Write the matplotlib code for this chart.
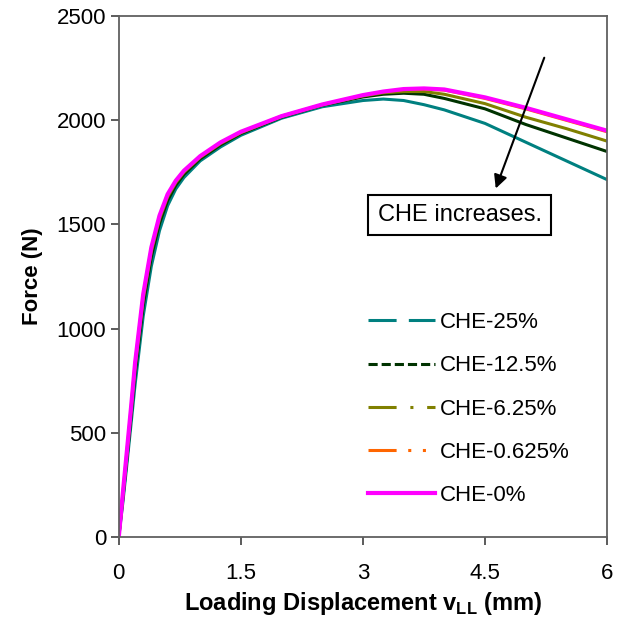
import matplotlib
matplotlib.use("Agg")
import matplotlib.pyplot as plt
from matplotlib.lines import Line2D

plt.rcParams['font.family'] = ['Liberation Sans', 'DejaVu Sans']
plt.rcParams['mathtext.fontset'] = 'custom'
plt.rcParams['mathtext.rm'] = 'Liberation Sans:bold'

# displacement grid (mm)
disp = [0, 0.05, 0.1, 0.15, 0.2, 0.3, 0.4, 0.5, 0.6, 0.7, 0.8, 1.0, 1.25, 1.5,
        2.0, 2.5, 3.0, 3.25, 3.5, 3.75, 4.0, 4.5, 5.0, 5.5, 6.0]

# force (N) for each CHE level
che_25 = [0, 165, 350, 540, 730, 1060, 1300, 1470, 1590, 1670, 1725, 1805, 1872, 1928,
          2010, 2065, 2095, 2102, 2095, 2075, 2050, 1985, 1895, 1805, 1715]
che_12_5 = [0, 185, 375, 575, 780, 1110, 1345, 1505, 1615, 1688, 1740, 1815, 1882, 1936,
            2015, 2072, 2112, 2125, 2130, 2125, 2105, 2055, 1980, 1915, 1850]
che_6_25 = [0, 198, 395, 600, 810, 1140, 1370, 1525, 1632, 1700, 1750, 1822, 1888, 1940,
            2018, 2074, 2117, 2132, 2138, 2138, 2125, 2080, 2015, 1960, 1900]
che_0_625 = [0, 208, 410, 615, 830, 1160, 1385, 1538, 1642, 1708, 1756, 1826, 1892, 1943,
             2020, 2075, 2120, 2137, 2148, 2150, 2145, 2105, 2055, 2000, 1945]
che_0 = [0, 212, 415, 620, 835, 1165, 1390, 1542, 1645, 1710, 1758, 1828, 1894, 1945,
         2020, 2076, 2121, 2138, 2150, 2153, 2148, 2110, 2060, 2005, 1950]

labels = ['CHE-25%', 'CHE-12.5%', 'CHE-6.25%', 'CHE-0.625%', 'CHE-0%']
series = [che_25, che_12_5, che_6_25, che_0_625, che_0]
colors = ['#008080', '#003300', '#808000', '#FF6600', '#FF00FF']
widths = [2.2, 2.2, 2.2, 2.2, 3.0]
# legend dash patterns (in line widths)
dash_styles = [(0, (9.2, 4)), (0, (3, 1.3)), (0, (9.2, 4.5, 1, 4.5)),
               (0, (9.2, 3.8, 1, 3.8, 1, 3.8)), '-']

fig = plt.figure(figsize=(6.22, 6.22), dpi=100)
ax = fig.add_axes([0.191, 0.137, 0.785, 0.837])

for ys, c, w in zip(series, colors, widths):
    ax.plot(disp, ys, color=c, lw=w, solid_capstyle='round')

ax.set_xlim(0, 6)
ax.set_ylim(0, 2500)
ax.set_xticks([0, 1.5, 3, 4.5, 6])
ax.set_xticklabels(['0', '1.5', '3', '4.5', '6'])
ax.set_yticks([0, 500, 1000, 1500, 2000, 2500])
ax.tick_params(direction='out', length=6, width=1.2, color='#404040',
               labelsize=16)
ax.tick_params(axis='x', pad=13)
ax.tick_params(axis='y', pad=3)
for s in ax.spines.values():
    s.set_color('#606060')
    s.set_linewidth(1.3)

ax.set_xlabel(r'Loading Displacement v$_\mathrm{LL}$ (mm)', fontsize=17,
              fontweight='bold', labelpad=4)
ax.set_ylabel('Force (N)', fontsize=16, fontweight='bold', labelpad=10)

handles = [Line2D([], [], color=c, lw=w, ls=ls)
           for c, w, ls in zip(colors, widths, dash_styles)]
ax.legend(handles, labels, loc='upper left', bbox_to_anchor=(0.47, 0.47),
          frameon=False, fontsize=16, handlelength=3.0, handletextpad=0.2,
          labelspacing=1.0)

ax.annotate('', xy=(4.62, 1660), xytext=(5.24, 2313),
            arrowprops=dict(arrowstyle='-|>', color='black', lw=1.5,
                            mutation_scale=20))
ax.text(4.19, 1545, 'CHE increases.', fontsize=17, ha='center', va='center',
        bbox=dict(boxstyle='square,pad=0.4', fc='white', ec='black', lw=1.5))

fig.savefig('out.png', dpi=100)
